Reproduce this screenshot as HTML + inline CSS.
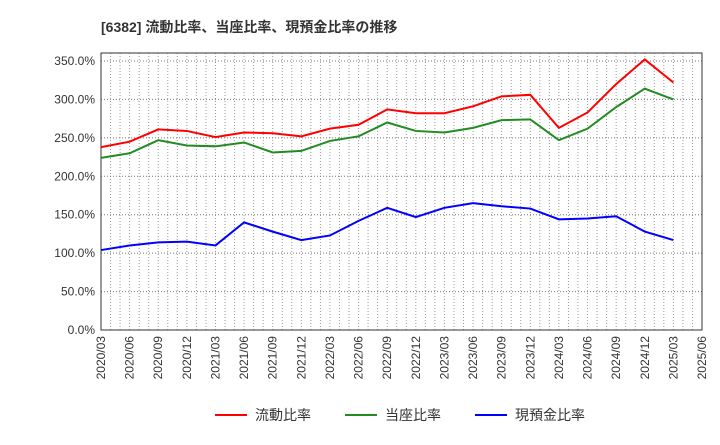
<!DOCTYPE html>
<html><head><meta charset="utf-8"><style>
body{margin:0;background:#fff;font-family:"Liberation Sans","Noto Sans CJK JP",sans-serif}
svg text{font-family:"Liberation Sans","Noto Sans CJK JP",sans-serif}
</style></head><body>
<svg id="c" width="720" height="440" xmlns="http://www.w3.org/2000/svg">
<text x="101" y="32" font-size="14" font-weight="bold" fill="#333">[6382]  流動比率、当座比率、現預金比率の推移</text>
<g id="grid"></g><g id="axes"></g><g id="series"></g>
<g>
<line x1="215" y1="415" x2="247" y2="415" stroke="#f00" stroke-width="2"/><text x="255" y="420" font-size="14" fill="#333">流動比率</text>
<line x1="345" y1="415" x2="377" y2="415" stroke="#228b22" stroke-width="2"/><text x="385" y="420" font-size="14" fill="#333">当座比率</text>
<line x1="475" y1="415" x2="507" y2="415" stroke="#00f" stroke-width="2"/><text x="515" y="420" font-size="14" fill="#333">現預金比率</text>
</g>
</svg>
<script>
const categories=["2020/03","2020/06","2020/09","2020/12","2021/03","2021/06","2021/09","2021/12","2022/03","2022/06","2022/09","2022/12","2023/03","2023/06","2023/09","2023/12","2024/03","2024/06","2024/09","2024/12","2025/03","2025/06"];
const currentRatio=[238,245,261,259,251,257,256,252,262,267,287,282,282,291,304,306,263,283,320,352,322];
const quickRatio=[224,230,247,240,239,244,231,233,246,252,270,259,257,263,273,274,247,262,290,314,300];
const cashRatio=[104,110,114,115,110,140,128,117,123,142,159,147,159,165,161,158,144,145,148,128,117];
const yTicks=[0,50,100,150,200,250,300,350];
const L=101,R=702,T=53,B=330,YMAX=350,YTOP=61;
const x=i=>L+i*(R-L)/(categories.length-1);
const y=v=>B-v*(B-YTOP)/YMAX;
const NS="http://www.w3.org/2000/svg";
function mk(t,a,p){const e=document.createElementNS(NS,t);for(const k in a)e.setAttribute(k,a[k]);p.appendChild(e);return e;}
const g=document.getElementById('grid'),ax=document.getElementById('axes'),s=document.getElementById('series');
for(let m=0;m<=63;m++){const xx=L+m*(R-L)/63;const l=mk('line',{x1:xx,x2:xx,y1:T,y2:B,stroke:'#999','stroke-width':1,'stroke-dasharray':'1,2'},g);

}
yTicks.forEach(v=>{const l=mk('line',{x1:L,x2:R,y1:y(v),y2:y(v),stroke:'#777','stroke-width':1,'stroke-dasharray':'1,2'},g);


const t=mk('text',{x:L-6,y:y(v)+4,'font-size':12,'text-anchor':'end',fill:'#333'},ax);t.textContent=v.toFixed(1)+'%';

});
categories.forEach((c,i)=>{const t=mk('text',{transform:`translate(${x(i)+4},${B+6}) rotate(-90)`,'font-size':12,'text-anchor':'end',fill:'#333'},ax);t.textContent=c;

});
const fr=mk('rect',{x:L,y:T,width:R-L,height:B-T,fill:'none',stroke:'#333','stroke-width':1},ax);


[[currentRatio,'#f00','current-ratio-line'],[quickRatio,'#228b22','quick-ratio-line'],[cashRatio,'#00f','cash-ratio-line']].forEach(([d,c,n])=>{
const p=mk('polyline',{points:d.map((v,i)=>x(i)+','+y(v)).join(' '),fill:'none',stroke:c,'stroke-width':2},s);

});
</script>
</body></html>
